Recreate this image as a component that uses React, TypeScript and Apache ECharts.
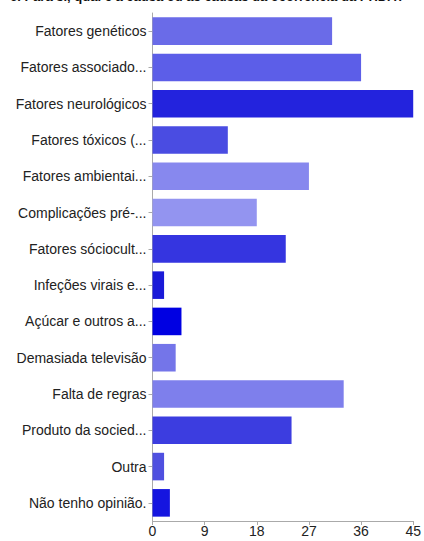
import React, { useEffect, useRef } from "react";
import * as echarts from "echarts";

const titleText = "6. Para si, qual é a causa ou as causas da ocorrência da PHDA?";

const categories = [
  "Fatores genéticos",
  "Fatores associado...",
  "Fatores neurológicos",
  "Fatores tóxicos (...",
  "Fatores ambientai...",
  "Complicações pré-...",
  "Fatores sóciocult...",
  "Infeções virais e...",
  "Açúcar e outros a...",
  "Demasiada televisão",
  "Falta de regras",
  "Produto da socied...",
  "Outra",
  "Não tenho opinião.",
];

const values = [31, 36, 45, 13, 27, 18, 23, 2, 5, 4, 33, 24, 2, 3];

const barColors = [
  "#6a6be8",
  "#5c5ee8",
  "#2323dd",
  "#4a4ce2",
  "#8788ee",
  "#9394f0",
  "#3535e0",
  "#1a1ad8",
  "#0000e2",
  "#7475e9",
  "#7e7fec",
  "#3c3de0",
  "#4f50e0",
  "#1515e0",
];

const xTicks = { min: 0, max: 45, interval: 9 };

export default function App() {
  const ref = useRef<HTMLDivElement>(null);
  useEffect(() => {
    if (!ref.current) return;
    const chart = echarts.init(ref.current, undefined, { renderer: "svg" });
    const font = "Liberation Sans, Arial, Helvetica, sans-serif";
    chart.setOption({
      animation: false,
      backgroundColor: "#ffffff",
      textStyle: { fontFamily: font },
      graphic: [
        {
          type: "text",
          left: 10,
          top: -10,
          style: {
            text: titleText,
            fontSize: 13,
            fontWeight: "bold",
            fontFamily: font,
            fill: "#111",
          },
        },
      ],
      grid: { left: 152.5, right: 5.5, top: 13, bottom: 20, containLabel: false },
      xAxis: {
        type: "value",
        min: xTicks.min,
        max: xTicks.max,
        interval: xTicks.interval,
        splitLine: { show: false },
        axisLine: { show: true, lineStyle: { color: "#aaaaaa" } },
        axisTick: { show: true, length: 4, lineStyle: { color: "#aaaaaa" } },
        axisLabel: { color: "#222", fontSize: 14, margin: 3, fontFamily: font },
      },
      yAxis: {
        type: "category",
        data: categories,
        inverse: true,
        axisLine: { show: true, lineStyle: { color: "#aaaaaa" } },
        axisTick: { show: true, length: 4, alignWithLabel: true, lineStyle: { color: "#aaaaaa" } },
        axisLabel: { color: "#222", fontSize: 14, margin: 6, fontFamily: font },
      },
      series: [
        {
          type: "bar",
          barCategoryGap: "24%",
          data: values.map((v, i) => ({ value: v, itemStyle: { color: barColors[i] } })),
        },
      ],
    });
    return () => chart.dispose();
  }, []);
  return (
    <div
      ref={ref}
      style={{ position: "fixed", left: 0, top: 0, width: 424, height: 541 }}
    />
  );
}
